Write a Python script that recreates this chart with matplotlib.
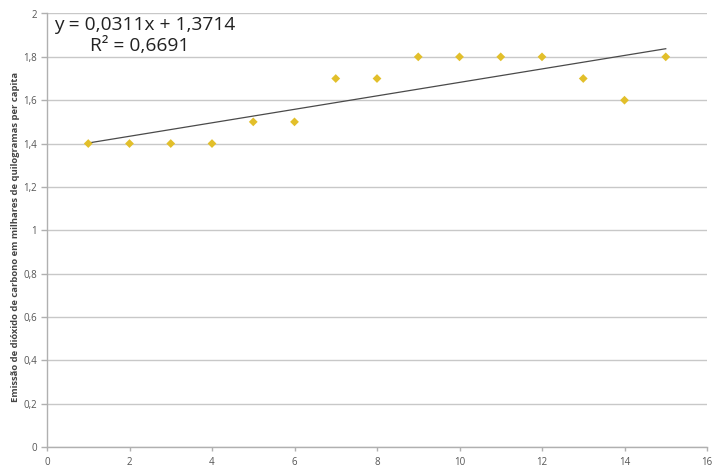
import matplotlib
matplotlib.use("Agg")
import matplotlib.pyplot as plt
import numpy as np

x_vals = [1, 2, 3, 4, 5, 6, 7, 8, 9, 10, 11, 12, 13, 14, 15]
y_vals = [1.4, 1.4, 1.4, 1.4, 1.5, 1.5, 1.7, 1.7, 1.8, 1.8, 1.8, 1.8, 1.7, 1.6, 1.8]
x_ticks = [0, 2, 4, 6, 8, 10, 12, 14, 16]
x_tick_labels = ["0", "2", "4", "6", "8", "10", "12", "14", "16"]
y_ticks = [0, 0.2, 0.4, 0.6, 0.8, 1.0, 1.2, 1.4, 1.6, 1.8, 2.0]
y_tick_labels = ["0", "0,2", "0,4", "0,6", "0,8", "1", "1,2", "1,4", "1,6", "1,8", "2"]
eq_line1 = "y = 0,0311x + 1,3714"
eq_line2 = "R² = 0,6691"
y_label = "Emissão de dióxido de carbono em milhares de quilogramas per capita"

plt.rcParams['font.family'] = ['Open Sans', 'DejaVu Sans']

fig = plt.figure(figsize=(7.15, 4.69), dpi=100)
ax = fig.add_axes([47 / 715, 1 - 447 / 469, 660 / 715, 433.5 / 469])

ax.set_xlim(0, 16)
ax.set_ylim(0, 2)
ax.set_yticks(y_ticks)
ax.set_yticklabels(y_tick_labels)
ax.set_xticks(x_ticks)
ax.set_xticklabels(x_tick_labels)

ax.yaxis.grid(True, color="#c8c8c8", linewidth=1.0)
ax.set_axisbelow(True)
for s in ["top", "right"]:
    ax.spines[s].set_visible(False)
for s in ["left", "bottom"]:
    ax.spines[s].set_color("#b0b0b0")
    ax.spines[s].set_linewidth(1.0)
ax.tick_params(axis="y", colors="#b0b0b0", labelcolor="#555555", labelsize=7, length=4, width=1, pad=3)
ax.tick_params(axis="x", colors="#b0b0b0", labelcolor="#555555", labelsize=7, length=3, width=1, pad=4)

xs = np.array(x_vals, dtype=float)
ys = np.array(y_vals, dtype=float)
m, b = np.polyfit(xs, ys, 1)
ax.plot([xs.min(), xs.max()], [m * xs.min() + b, m * xs.max() + b], color="#4a4a4a", linewidth=0.9, zorder=2)
ax.scatter(xs, ys, marker="D", s=20, color="#e2bf2a", edgecolors="none", zorder=3)

ax.text(0.17, 1.949, eq_line1, fontsize=13.8, color="#222222", va="center", ha="left")
ax.text(1.04, 1.848, eq_line2, fontsize=13.8, color="#222222", va="center", ha="left")

fig.text(16 / 715, 1 - 237 / 469, y_label, fontsize=6.8, fontweight="bold", color="#444444",
         rotation=90, ha="center", va="center")

fig.savefig("out.png", dpi=100)
